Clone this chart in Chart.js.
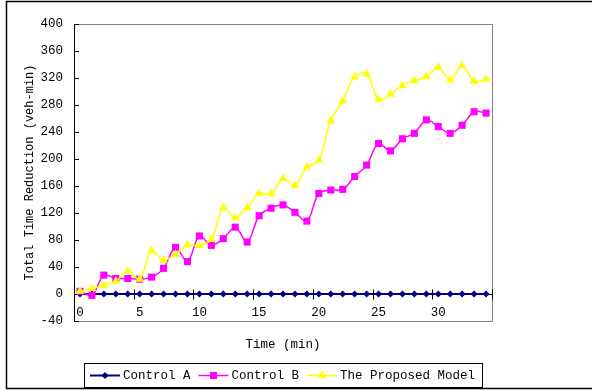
<!DOCTYPE html>
<html>
<head>
<meta charset="utf-8">
<script src="https://cdn.jsdelivr.net/npm/chart.js@4/dist/chart.umd.min.js"></script>
<style>
  html, body { margin: 0; padding: 0; background: #fff; }
  #wrap { width: 592px; height: 391px; position: relative; }
</style>
</head>
<body>
<div id="wrap"><canvas id="c" width="592" height="391"></canvas></div>
<script>
// Time steps (min)
const minutes = [0, 1, 2, 3, 4, 5, 6, 7, 8, 9, 10, 11, 12, 13, 14, 15, 16, 17,
                 18, 19, 20, 21, 22, 23, 24, 25, 26, 27, 28, 29, 30, 31, 32, 33, 34];

// Labelled positions on the time axis
const timeTickLabels = ['0', '5', '10', '15', '20', '25', '30'];

// Value-axis ticks (veh-min)
const reductionTicks = [-40, 0, 40, 80, 120, 160, 200, 240, 280, 320, 360, 400];

// Total time reduction per strategy (veh-min)
const controlA = [0, 0, 0, 0, 0, 0, 0, 0, 0, 0, 0, 0, 0, 0, 0, 0, 0, 0,
                  0, 0, 0, 0, 0, 0, 0, 0, 0, 0, 0, 0, 0, 0, 0, 0, 0];
const controlB = [4, -2, 28, 23, 23, 22, 25, 38, 69, 48, 86, 72, 82, 99, 77, 116, 127, 132,
                  121, 108, 149, 154, 155, 174, 191, 223, 212, 230, 238, 258, 248, 238, 250, 270, 268];
const proposedModel = [4, 8, 13, 19, 34, 22, 64, 50, 59, 73, 72, 81, 128, 113, 128, 149, 148, 171,
                       161, 188, 198, 257, 286, 322, 326, 288, 296, 309, 316, 322, 336, 317, 338, 315, 318];

const FONT = 'Liberation Mono';

// Frame, axes, tick marks and time labels drawn from the chart's own scales
const framePlugin = {
  id: 'frame',
  beforeDatasetsDraw(chart) {
    const ctx = chart.ctx;
    const a = chart.chartArea;
    const xs = chart.scales.x, ys = chart.scales.y;
    ctx.save();

    // outer chart border
    ctx.strokeStyle = '#000';
    ctx.lineWidth = 1.5;
    ctx.beginPath();
    ctx.moveTo(592, 1.5); ctx.lineTo(6.5, 1.5); ctx.lineTo(6.5, 388.5); ctx.lineTo(592, 388.5);
    ctx.stroke();

    // plot area border (top, right, bottom)
    ctx.strokeStyle = '#808080';
    ctx.lineWidth = 1;
    ctx.beginPath();
    ctx.moveTo(a.left, a.top + 0.5); ctx.lineTo(a.right + 0.5, a.top + 0.5);
    ctx.lineTo(a.right + 0.5, a.bottom + 0.5); ctx.lineTo(a.left, a.bottom + 0.5);
    ctx.stroke();

    // value axis with inside tick marks
    ctx.strokeStyle = '#000';
    ctx.beginPath();
    ctx.moveTo(a.left + 0.5, a.top); ctx.lineTo(a.left + 0.5, a.bottom + 1);
    reductionTicks.forEach(v => {
      const py = Math.round(ys.getPixelForValue(v)) + 0.5;
      ctx.moveTo(a.left, py); ctx.lineTo(a.left + 5, py);
    });
    ctx.stroke();

    // time axis crossing at zero, tick marks between categories every 5 min
    const y0 = Math.round(ys.getPixelForValue(0)) + 0.5;
    const step = xs.getPixelForValue(1) - xs.getPixelForValue(0);
    ctx.beginPath();
    ctx.moveTo(a.left, y0); ctx.lineTo(a.right, y0);
    for (let k = 5; k <= minutes.length; k += 5) {
      const px = Math.round(xs.getPixelForValue(k - 1) + step / 2) + 0.5;
      ctx.moveTo(px, y0 - 5); ctx.lineTo(px, y0 + 5);
    }
    const pr = Math.round(xs.getPixelForValue(minutes.length - 1) + step / 2) + 0.5;
    ctx.moveTo(pr, y0 - 5); ctx.lineTo(pr, y0 + 5);
    ctx.stroke();

    // time labels sit just above the bottom of the plot area
    ctx.font = '12.5px "' + FONT + '"';
    ctx.fillStyle = '#000';
    ctx.textAlign = 'center';
    ctx.textBaseline = 'middle';
    minutes.forEach((m, i) => {
      const lbl = String(m);
      if (timeTickLabels.includes(lbl)) {
        ctx.fillText(lbl, xs.getPixelForValue(i), a.bottom - 8);
      }
    });
    ctx.restore();
  }
};

// Boxed legend with line + marker samples
function drawMarker(ctx, style, x, y, r, color) {
  ctx.fillStyle = color;
  ctx.beginPath();
  if (style === 'rectRot') {
    ctx.moveTo(x, y - r); ctx.lineTo(x + r, y); ctx.lineTo(x, y + r); ctx.lineTo(x - r, y);
  } else if (style === 'rect') {
    const s = r * Math.SQRT1_2;
    ctx.rect(x - s, y - s, 2 * s, 2 * s);
  } else {
    ctx.moveTo(x, y - r);
    ctx.lineTo(x + r * Math.sin(2 * Math.PI / 3), y - r * Math.cos(2 * Math.PI / 3));
    ctx.lineTo(x + r * Math.sin(4 * Math.PI / 3), y - r * Math.cos(4 * Math.PI / 3));
  }
  ctx.closePath();
  ctx.fill();
}

const legendPlugin = {
  id: 'boxLegend',
  afterDraw(chart) {
    const ctx = chart.ctx;
    const box = { left: 84, top: 363, right: 482, bottom: 387 };
    ctx.save();
    ctx.strokeStyle = '#000';
    ctx.lineWidth = 1;
    ctx.strokeRect(box.left + 0.5, box.top + 0.5, box.right - box.left, box.bottom - box.top);
    ctx.font = '12.5px "' + FONT + '"';
    ctx.textBaseline = 'middle';
    ctx.fillStyle = '#000';
    const cy = (box.top + box.bottom) / 2 + 0.5;
    let x = box.left + 6;
    chart.data.datasets.forEach(ds => {
      ctx.strokeStyle = ds.borderColor;
      ctx.lineWidth = ds.borderWidth;
      ctx.beginPath(); ctx.moveTo(x, cy); ctx.lineTo(x + 30, cy); ctx.stroke();
      drawMarker(ctx, ds.pointStyle, x + 15, cy, ds.pointRadius, ds.pointBackgroundColor);
      ctx.fillStyle = '#000';
      ctx.fillText(ds.label, x + 33, cy);
      x += 33 + ctx.measureText(ds.label).width + 8;
    });
    ctx.restore();
  }
};

new Chart(document.getElementById('c'), {
  type: 'line',
  data: {
    labels: minutes,
    datasets: [
      {
        label: 'Control A', data: controlA, order: 2,
        borderColor: '#000080', backgroundColor: '#000080', borderWidth: 2,
        pointStyle: 'rectRot', pointRadius: 3.5, pointBackgroundColor: '#000080',
        pointBorderWidth: 0, tension: 0
      },
      {
        label: 'Control B', data: controlB, order: 1,
        borderColor: '#FF00FF', backgroundColor: '#FF00FF', borderWidth: 1.5,
        pointStyle: 'rect', pointRadius: 5, pointBackgroundColor: '#FF00FF',
        pointBorderWidth: 0, tension: 0.35
      },
      {
        label: 'The Proposed Model', data: proposedModel, order: 0,
        borderColor: '#FFFF00', backgroundColor: '#FFFF00', borderWidth: 1.5,
        pointStyle: 'triangle', pointRadius: 5, pointBackgroundColor: '#FFFF00',
        pointBorderWidth: 0, tension: 0.35
      }
    ]
  },
  options: {
    responsive: false,
    animation: false,
    devicePixelRatio: 1,
    layout: { padding: { left: 6, top: 24, right: 100, bottom: 0 } },
    plugins: { legend: { display: false }, tooltip: { enabled: false } },
    elements: { point: { hoverRadius: 5 } },
    scales: {
      x: {
        type: 'category',
        offset: true,
        grid: { display: false, drawTicks: false },
        border: { display: false },
        afterFit(scale) { scale.height = 70; },
        ticks: { display: false },
        title: {
          display: true, text: 'Time (min)', color: '#000',
          font: { family: FONT, size: 12.5 }, padding: { top: 0, bottom: 38.5 }
        }
      },
      y: {
        min: -40, max: 400,
        grid: { display: false, drawTicks: false },
        border: { display: false },
        afterFit(scale) { scale.width = 68; },
        afterBuildTicks(scale) { scale.ticks = reductionTicks.map(v => ({ value: v })); },
        ticks: {
          padding: 11, color: '#000', font: { family: FONT, size: 12.5 }
        },
        title: {
          display: true, text: 'Total Time Reduction (veh-min)', color: '#000',
          font: { family: FONT, size: 12 }, padding: { top: 17, bottom: 0 }
        }
      }
    }
  },
  plugins: [framePlugin, legendPlugin]
});
</script>
</body>
</html>
